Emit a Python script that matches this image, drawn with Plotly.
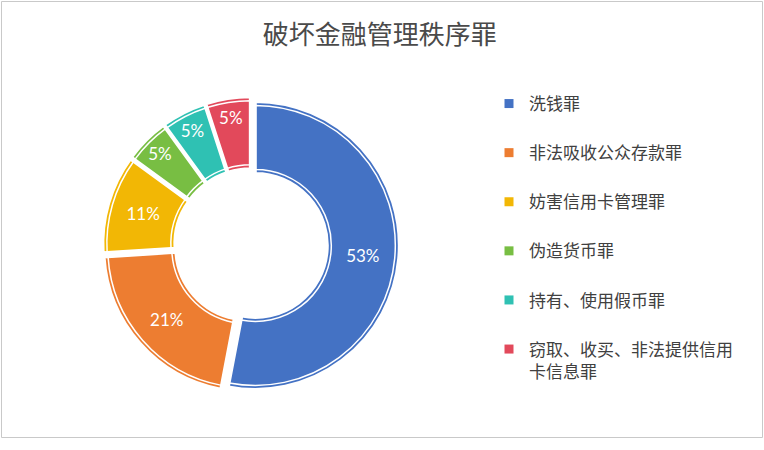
import plotly.graph_objects as go

# ---- data ----
categories = ["洗钱罪", "非法吸收公众存款罪", "妨害信用卡管理罪", "伪造货币罪",
              "持有、使用假币罪", "窃取、收买、非法提供信用卡信息罪"]
legend_labels = ["洗钱罪", "非法吸收公众存款罪", "妨害信用卡管理罪", "伪造货币罪",
                 "持有、使用假币罪", "窃取、收买、非法提供信用<br>卡信息罪"]
shares = [53, 21, 11, 5, 5, 5]
colors = ["#4472C4", "#ED7D31", "#F2B705", "#78BE43", "#2FC1B3", "#E2495B"]
title_text = "破坏金融管理秩序罪"

# ---- layout geometry (pixels) ----
W, H = 764, 450
cx, cy = 251, 245          # pie centre
r1 = 144                   # pie radius
pull = 0.03
hole = 0.50
inset = 4                  # inner white line inset

def dom(cx, cy, box):
    return dict(x=[(cx - box / 2) / W, (cx + box / 2) / W],
                y=[1 - (cy + box / 2) / H, 1 - (cy - box / 2) / H])

box1 = 2 * r1 * (1 + pull)
box2 = box1 - 2 * inset
r2 = r1 - inset
pull2 = pull * r1 / r2
hole2 = (hole * r1 + inset) / r2

fig = go.Figure()

# main doughnut
fig.add_trace(go.Pie(
    labels=categories, values=shares, sort=False, direction="clockwise",
    rotation=0, hole=hole, pull=[pull] * len(shares),
    domain=dom(cx, cy, box1),
    marker=dict(colors=colors, line=dict(color="white", width=3)),
    texttemplate="%{percent:.0%}", textposition="inside",
    insidetextorientation="horizontal",
    textfont=dict(family="Lato, Noto Sans", size=17, color="white"),
    showlegend=False, hoverinfo="label+percent",
))

# inner white outline (inset copy)
fig.add_trace(go.Pie(
    labels=categories, values=shares, sort=False, direction="clockwise",
    rotation=0, hole=hole2, pull=[pull2] * len(shares),
    domain=dom(cx, cy, box2),
    marker=dict(colors=["rgba(0,0,0,0)"] * len(shares),
                line=dict(color="white", width=1.5)),
    textinfo="none", showlegend=False, hoverinfo="skip",
))

# legend entries
for lab, col in zip(legend_labels, colors):
    fig.add_trace(go.Scatter(
        x=[None], y=[None], mode="markers", name=lab, legendgroup=lab,
        marker=dict(symbol="square", size=9, color=col,
                    line=dict(color="white", width=0)),
        showlegend=True,
    ))

fig.update_layout(
    width=W, height=H,
    margin=dict(l=0, r=0, t=0, b=0),
    paper_bgcolor="white", plot_bgcolor="white",
    title=dict(text=title_text, x=0.497, xanchor="center", y=1 - 35 / H,
               yanchor="middle",
               font=dict(family="Noto Sans CJK SC", size=26, color="#4a4a4a")),
    xaxis=dict(visible=False), yaxis=dict(visible=False),
    legend=dict(x=489 / W, xanchor="left", y=1 - 86 / H, yanchor="top",
                traceorder="grouped", tracegroupgap=24, valign="top",
                font=dict(family="Noto Sans CJK SC", size=17, color="#404040"),
                bgcolor="rgba(0,0,0,0)"),
    shapes=[dict(type="rect", xref="paper", yref="paper",
                 x0=1.5 / W, x1=762.5 / W, y0=1 - 437.5 / H, y1=1 - 1.5 / H,
                 line=dict(color="#C9C9C9", width=1), fillcolor="rgba(0,0,0,0)",
                 layer="below")],
)

fig.write_html("out.html",
               config={"displayModeBar": False},
               post_script="document.body.style.margin='0px';"
                           "document.body.style.padding='0px';")
